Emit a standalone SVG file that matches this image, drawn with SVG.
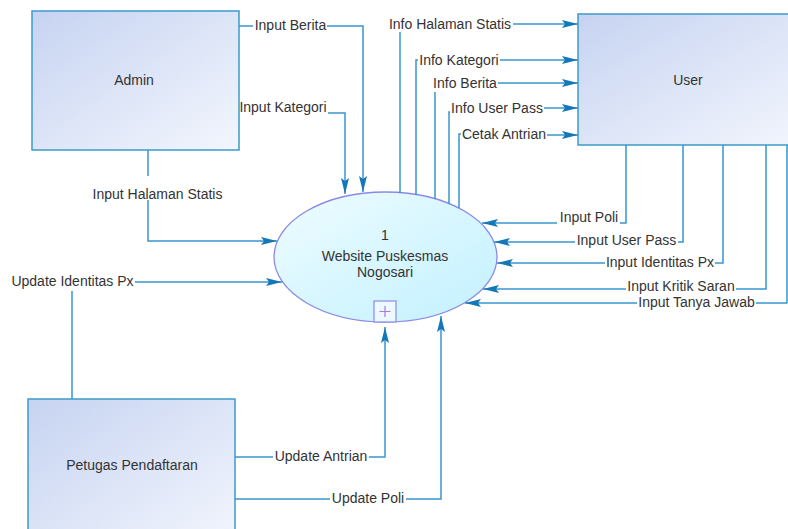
<svg xmlns="http://www.w3.org/2000/svg" width="788" height="529" viewBox="0 0 788 529">
<defs>
<linearGradient id="boxg" x1="0" y1="0" x2="1" y2="1">
<stop offset="0" stop-color="#c6d3f1"/>
<stop offset="1" stop-color="#f3f6fd"/>
</linearGradient>
<linearGradient id="ellg" x1="0" y1="0" x2="1" y2="1">
<stop offset="0" stop-color="#eefcff"/>
<stop offset="1" stop-color="#c2f1ff"/>
</linearGradient>
<marker id="arr" viewBox="0 0 16 8" refX="16" refY="4" markerWidth="16" markerHeight="8" markerUnits="userSpaceOnUse" orient="auto">
<path d="M0,0 L16,4 L0,8 L3,4 z" fill="#1477b8"/>
</marker>
<style>
.box{fill:url(#boxg);stroke:#3c9acd;stroke-width:1.5}
.t{font-family:"Liberation Sans",Arial,sans-serif;font-size:14px;fill:#333333}
.c{fill:none;stroke:#3797cf;stroke-width:1.5}
.a{marker-end:url(#arr)}
</style>
</defs>
<rect width="788" height="529" fill="#ffffff"/>

<g id="admin">
<rect class="box" x="32" y="11" width="207" height="139"/>
<text class="t" x="134" y="85" text-anchor="middle">Admin</text>
</g>
<g id="user">
<rect class="box" x="578" y="14" width="230" height="131"/>
<text class="t" x="688" y="85" text-anchor="middle">User</text>
</g>
<g id="petugas">
<rect class="box" x="28" y="399" width="207" height="150"/>
<text class="t" x="132" y="470" text-anchor="middle">Petugas Pendaftaran</text>
</g>
<g id="process">
<ellipse cx="385.5" cy="257" rx="111.5" ry="65" fill="url(#ellg)" stroke="#8a8ae6" stroke-width="1.3"/>
<text class="t" x="385" y="240" text-anchor="middle">1</text>
<text class="t" x="385" y="261" text-anchor="middle">Website Puskesmas</text>
<text class="t" x="385" y="277" text-anchor="middle">Nogosari</text>
<rect x="374" y="301" width="22" height="21" fill="#eef9ff" stroke="#8a8ae6" stroke-width="1.2"/>
<path d="M385,306 V317 M379.5,311.5 H390.5" stroke="#a77ae0" stroke-width="1.2" fill="none"/>
</g>

<g id="connectors">
<path class="c" d="M239,26 H253"/>
<path class="c a" d="M327,26 H363 V192"/>
<path class="c a" d="M328,113 H345 V194"/>
<path class="c" d="M148,150 V176"/>
<path class="c a" d="M148,200 V241 H277"/>
<path class="c" d="M72,399 V291"/>
<path class="c a" d="M135,282 H282"/>
<path class="c" d="M235,457 H273"/>
<path class="c a" d="M369,457 H385 V327"/>
<path class="c" d="M235,499 H330"/>
<path class="c a" d="M406,499 H441 V316"/>
<path class="c" d="M400,193 V32"/>
<path class="c a" d="M513,24 H578"/>
<path class="c" d="M416,195 V60 H418"/>
<path class="c a" d="M500,60 H578"/>
<path class="c" d="M435,199 V92"/>
<path class="c a" d="M498,83 H578"/>
<path class="c" d="M449,204 V112 H450"/>
<path class="c a" d="M544,108 H578"/>
<path class="c" d="M459,208 V134 H461"/>
<path class="c a" d="M547,135 H578"/>
<path class="c" d="M626,145 V223 H620"/>
<path class="c a" d="M557,223 H482"/>
<path class="c" d="M683,145 V242 H678"/>
<path class="c a" d="M575,242 H494"/>
<path class="c" d="M723,145 V263 H715"/>
<path class="c a" d="M605,263 H497"/>
<path class="c" d="M766,145 V289 H736"/>
<path class="c a" d="M626,289 H483"/>
<path class="c" d="M787,145 V303 H756"/>
<path class="c a" d="M637,303 H465"/>
</g>

<g id="labels">
<text class="t" x="290.5" y="30" text-anchor="middle">Input Berita</text>
<text class="t" x="283" y="112" text-anchor="middle">Input Kategori</text>
<text class="t" x="157.5" y="199" text-anchor="middle">Input Halaman Statis</text>
<text class="t" x="72.5" y="286" text-anchor="middle">Update Identitas Px</text>
<text class="t" x="321" y="461" text-anchor="middle">Update Antrian</text>
<text class="t" x="368" y="503" text-anchor="middle">Update Poli</text>
<text class="t" x="450" y="29" text-anchor="middle">Info Halaman Statis</text>
<text class="t" x="459" y="65" text-anchor="middle">Info Kategori</text>
<text class="t" x="465" y="88" text-anchor="middle">Info Berita</text>
<text class="t" x="497" y="113" text-anchor="middle">Info User Pass</text>
<text class="t" x="504" y="139" text-anchor="middle">Cetak Antrian</text>
<text class="t" x="589" y="222" text-anchor="middle">Input Poli</text>
<text class="t" x="626.5" y="245" text-anchor="middle">Input User Pass</text>
<text class="t" x="660" y="267" text-anchor="middle">Input Identitas Px</text>
<text class="t" x="681" y="291" text-anchor="middle">Input Kritik Saran</text>
<text class="t" x="696.5" y="307" text-anchor="middle">Input Tanya Jawab</text>
</g>
</svg>
